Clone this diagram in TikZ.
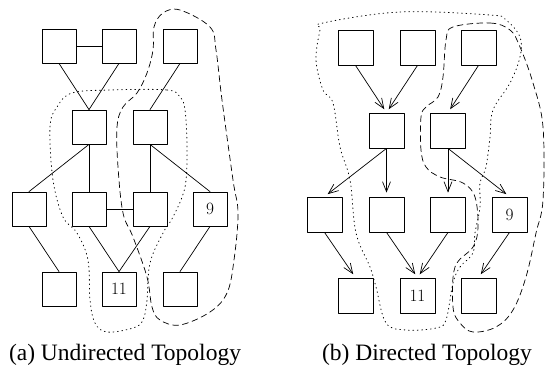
\documentclass[tikz,border=0pt]{standalone}
\usepackage{fontspec}
\newfontfamily\capfont{Liberation Serif}
\usetikzlibrary{arrows.meta}
\begin{document}
\begin{tikzpicture}[x=1pt,y=-1pt,line cap=round,line join=round,
  vbox/.style={draw,line width=0.8pt,minimum size=34pt,inner sep=0pt,font=\fontsize{19}{21}\selectfont},
  wbox/.style={vbox,minimum size=35pt},
  link/.style={line width=0.7pt},
  arc/.style={line width=0.7pt,-{Straight Barb[length=10pt,width=8pt]},shorten >=4pt},
  bigset/.style={line width=0.7pt,dash pattern=on 6pt off 4pt},
  smallset/.style={line width=0.8pt,dash pattern=on 0.8pt off 3.6pt},
  caption/.style={anchor=base,font=\capfont\fontsize{23.5}{26}\selectfont}]
  \useasboundingbox (0,0) rectangle (547,367);
  % (a) undirected
  \node[vbox] (a1) at (59,46) {};
  \node[vbox] (a2) at (119,46) {};
  \node[vbox] (a3) at (180,46) {};
  \node[vbox] (a4) at (89,127) {};
  \node[vbox] (a5) at (150,127) {};
  \node[vbox] (a6) at (29,209) {};
  \node[vbox] (a7) at (89,209) {};
  \node[vbox] (a8) at (150,209) {};
  \node[vbox] (a9) at (210,209) {$9$};
  \node[vbox] (a10) at (59,289) {};
  \node[vbox] (a11) at (119,289) {$11$};
  \node[vbox] (a12) at (180,289) {};
  \draw[link] (a1) -- (a2);
  \draw[link] (a1.south) -- (a4.north);
  \draw[link] (a2.south) -- (a4.north);
  \draw[link] (a3.south) -- (a5.north);
  \draw[link] (a4.south) -- (a6.north);
  \draw[link] (a4) -- (a7);
  \draw[link] (a5) -- (a8);
  \draw[link] (a5.south) -- (a9.north);
  \draw[link] (a7) -- (a8);
  \draw[link] (a6.south) -- (a10.north);
  \draw[link] (a7.south) -- (a11.north);
  \draw[link] (a8.south) -- (a11.north);
  \draw[link] (a9.south) -- (a12.north);
  \draw[bigset] plot[smooth cycle,tension=0.6] coordinates {(180,10) (210,27) (216,50) (222,100) (233,180) (238,213) (234,260) (227,293) (210,312) (180,325) (160,320) (152,307) (147,277) (133,237) (123,213) (118,167) (117,127) (123,107) (137,93) (147,73) (153,50) (154,27) (163,13)};
  \draw[smallset] plot[smooth cycle,tension=0.6] coordinates {(110,90) (167,90) (180,97) (185,110) (187,147) (185,187) (173,217) (163,233) (150,263) (147,300) (143,320) (133,328) (107,332) (95,323) (90,300) (88,260) (77,233) (63,217) (53,180) (50,127) (57,107) (72,93)};
  \node[caption] (capa) at (125,360) {(a) Undirected Topology};
  % (b) directed
  \node[wbox] (b1) at (355.5,47.5) {};
  \node[wbox] (b2) at (417.5,47.5) {};
  \node[wbox] (b3) at (478.5,47.5) {};
  \node[wbox] (b4) at (386.5,130.5) {};
  \node[wbox] (b5) at (448,130.5) {};
  \node[wbox] (b6) at (324.5,214.5) {};
  \node[wbox] (b7) at (386.5,214.5) {};
  \node[wbox] (b8) at (448,214.5) {};
  \node[wbox] (b9) at (509.5,214.5) {$9$};
  \node[wbox] (b10) at (355.5,295.5) {};
  \node[wbox] (b11) at (417.5,295.5) {$11$};
  \node[wbox] (b12) at (478.5,295.5) {};
  \draw[arc] (b1.south) -- (b4.north);
  \draw[arc] (b2.south) -- (b4.north);
  \draw[arc] (b3.south) -- (b5.north);
  \draw[arc] (b4.south) -- (b6.north);
  \draw[arc] (b4.south) -- (b7.north);
  \draw[arc] (b5.south) -- (b8.north);
  \draw[arc] (b5.south) -- (b9.north);
  \draw[arc] (b6.south) -- (b10.north);
  \draw[arc] (b7.south) -- (b11.north);
  \draw[arc] (b8.south) -- (b11.north);
  \draw[arc] (b9.south) -- (b12.north);
  \draw[smallset] plot[smooth cycle,tension=0.6] coordinates {(323,23) (400,12) (490,15) (506,20) (520,37) (520,57) (510,83) (493,110) (490,137) (486,167) (480,183) (480,207) (475,233) (473,253) (460,267) (453,283) (446,320) (436,328) (406,330) (386,323) (376,287) (370,267) (356,233) (350,180) (340,147) (333,103) (323,90) (316,60) (320,30)};
  \draw[bigset] plot[smooth cycle,tension=0.6] coordinates {(453,27) (490,23) (510,30) (520,47) (533,83) (543,127) (543,200) (536,233) (526,277) (513,310) (496,327) (473,332) (460,323) (453,307) (455,267) (473,247) (478,227) (475,197) (463,183) (440,177) (426,167) (421,150) (421,117) (426,107) (438,97) (443,77) (446,40)};
  \node[caption] (capb) at (427,360) {(b) Directed Topology};
\end{tikzpicture}
\end{document}
